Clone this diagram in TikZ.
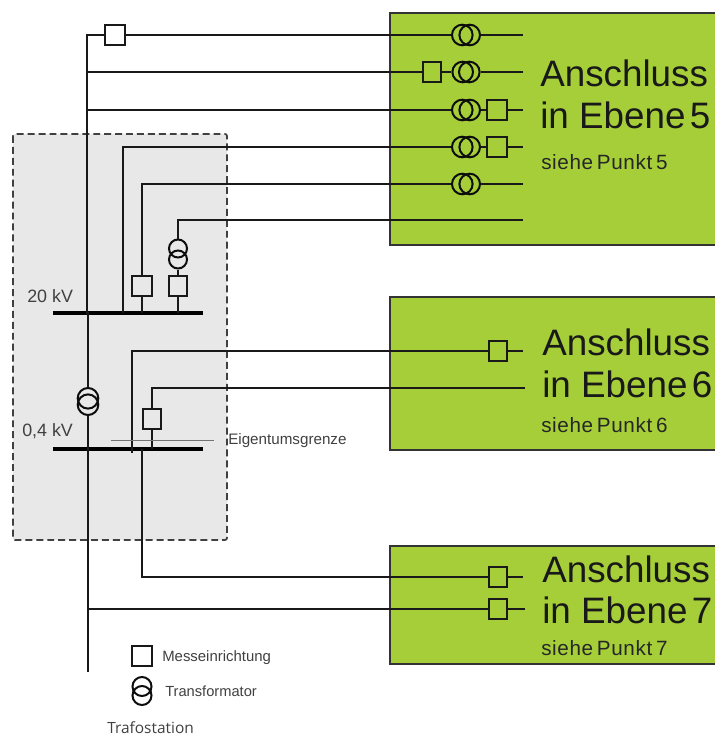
\documentclass[tikz,border=0pt]{standalone}
\usepackage{fontspec}
\setmainfont{Liberation Sans}
\newfontfamily\capfont{Open Sans}
\newfontfamily\subfont[LetterSpace=3,WordSpace=0.6]{Liberation Sans}
\definecolor{lvlgreen}{HTML}{A5CE39}
\definecolor{stationgray}{HTML}{E8E8E8}
\tikzset{
  wire/.style={draw=black!90,line width=1.2pt},
  meter/.style={draw=black!90,line width=1.2pt,rectangle,inner sep=0pt,minimum width=#1*0.75pt,minimum height=15pt},
  meter/.default=20,
  coil/.style={draw=black!95,line width=1.5pt,circle,inner sep=0pt,minimum size=#1*1.5pt},
  bus/.style={fill=black,inner sep=0pt,minimum width=112.5pt,minimum height=3.6pt},
  level/.style={draw=black!80,line width=1.2pt,fill=lvlgreen},
  big/.style={anchor=base west,inner sep=0pt,font=\fontsize{27.6}{30}\selectfont,text=black!90},
  sub/.style={anchor=base west,inner sep=0pt,font=\subfont\fontsize{15.5}{16}\selectfont,text=black!85},
  small/.style={anchor=base west,inner sep=0pt,text=black!75,font=\fontsize{#1}{12}\selectfont},
}
\newcommand{\trafoH}[5][10.3]{%
  \node[coil=#1] (#2a) at ({#3-#5},#4) {};
  \node[coil=#1] (#2b) at ({#3+#5},#4) {};}
\newcommand{\trafoV}[5][9]{%
  \node[coil=#1] (#2a) at (#3,{#4-#5}) {};
  \node[coil=#1] (#2b) at (#3,{#4+#5}) {};}
\begin{document}
\begin{tikzpicture}[x=0.75pt,y=-0.75pt]
\useasboundingbox (0,0) rectangle (714,738);
% areas
\path[fill=stationgray,draw=black!75,line width=1.3pt,dash pattern=on 5.2pt off 3pt,rounded corners=1.5pt] (13,134) rectangle (227,540);
\path[level] (390,13) rectangle (725,245);
\path[level] (390,297) rectangle (725,450);
\path[level] (390,546) rectangle (725,664);
% busbars
\node[bus] (busA) at (128,313) {};
\node[bus] (busB) at (128,449) {};
% meters
\node[meter] (m1) at (115,35) {};
\node[meter=18] (m2) at (432,72) {};
\node[meter] (m3) at (497,110) {};
\node[meter] (m4) at (497,147) {};
\node[meter] (m5) at (142,286) {};
\node[meter=18] (m6) at (178,286) {};
\node[meter=18] (m7) at (498,351) {};
\node[meter=18] (m8) at (152,419) {};
\node[meter=18] (m9) at (498,577) {};
\node[meter=18] (m10) at (498,609) {};
\node[meter] (lm) at (142,656) {};
% transformers
\trafoH{t1}{466}{35}{3.7}
\trafoH{t2}{466}{72}{3.3}
\trafoH{t3}{466}{110}{3.7}
\trafoH{t4}{466}{147}{3.7}
\trafoH{t5}{466}{184}{3.7}
\trafoV{t6}{178}{254}{5.5}
\trafoV[10.3]{t7}{88}{401.5}{3.2}
\trafoV[9.5]{lt}{142}{691}{4.5}
% free ends
\coordinate (main) at (87,35);
\coordinate (j72) at (87,72);
\coordinate (j110) at (87,110);
\coordinate (e1) at (523,35);
\coordinate (e2) at (523,72);
\coordinate (e3) at (523,110);
\coordinate (e4) at (523,147);
\coordinate (e5) at (523,184);
\coordinate (e6) at (523,220);
\coordinate (e7) at (523,351);
\coordinate (e8) at (525,388);
\coordinate (e9) at (523,577);
\coordinate (e10) at (525,609);
\coordinate (a4) at (123,313);
\coordinate (a5) at (142,313);
\coordinate (a6) at (178,313);
\coordinate (a7) at (87,313);
\coordinate (b7) at (132,453);
\coordinate (b8) at (152,449);
\coordinate (b9) at (142,449);
\coordinate (j609) at (88,609);
\coordinate (bottom) at (88,672);
\coordinate (g1) at (111,440);
\coordinate (g2) at (214,440);
% connectors
\draw[wire] (t7a.north) |- (a7) -- (main) -- (m1.west);
\draw[wire] (m1.east) -- (t1a.west);
\draw[wire] (t1b.east) -- (e1);
\draw[wire] (j72) -- (m2.west);
\draw[wire] (m2.east) -- (t2a.west);
\draw[wire] (t2b.east) -- (e2);
\draw[wire] (j110) -- (t3a.west);
\draw[wire] (t3b.east) -- (m3.west);
\draw[wire] (m3.east) -- (e3);
\draw[wire] (a4) |- (t4a.west);
\draw[wire] (t4b.east) -- (m4.west);
\draw[wire] (m4.east) -- (e4);
\draw[wire] (a5) -- (m5.south);
\draw[wire] (m5.north) |- (t5a.west);
\draw[wire] (t5b.east) -- (e5);
\draw[wire] (a6) -- (m6.south);
\draw[wire] (m6.north) -- (t6b.south);
\draw[wire] (t6a.north) |- (e6);
\draw[wire] (t7b.south) -- (bottom);
\draw[wire] (b7) |- (m7.west);
\draw[wire] (m7.east) -- (e7);
\draw[wire] (b8) -- (m8.south);
\draw[wire] (m8.north) |- (e8);
\draw[wire] (b9) |- (m9.west);
\draw[wire] (m9.east) -- (e9);
\draw[wire] (j609) -- (m10.west);
\draw[wire] (m10.east) -- (e10);
\draw[draw=black!55,line width=0.7pt] (g1) -- (g2);
% texts
\node[small=13.4] (kv20) at (27,302) {20 kV};
\node[small=13.4] (kv04) at (22,436) {0,4 kV};
\node[small=11.4] (eg) at (228,444) {Eigentumsgrenze};
\node[small=11.2] (lm1) at (162,661) {Messeinrichtung};
\node[small=11] (lm2) at (165,696) {Transformator};
\node[anchor=base west,inner sep=0pt,text=black!75,font=\capfont\fontsize{11.6}{14}\selectfont] (cap) at (107,733) {Trafostation};
\node[big] (t5x) at (540,87) {Anschluss};
\node[big] (t5y) at (540,129) {in Ebene\hspace{0.12em}5};
\node[sub] (t5z) at (541,169) {siehe Punkt 5};
\node[big] (t6x) at (542,355) {Anschluss};
\node[big] (t6y) at (542,397) {in Ebene\hspace{0.12em}6};
\node[sub] (t6z) at (541,432) {siehe Punkt 6};
\node[big] (t7x) at (542,582) {Anschluss};
\node[big] (t7y) at (542,623) {in Ebene\hspace{0.12em}7};
\node[sub] (t7z) at (541,655) {siehe Punkt 7};
\end{tikzpicture}
\end{document}
